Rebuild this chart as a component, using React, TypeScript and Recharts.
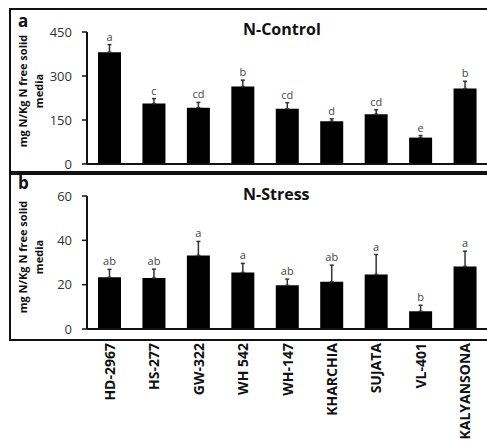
import React from 'react';
import { Bar, BarChart, ErrorBar, LabelList, XAxis, YAxis } from 'recharts';

const cultivars = ['HD-2967', 'HS-277', 'GW-322', 'WH 542', 'WH-147', 'KHARCHIA', 'SUJATA', 'VL-401', 'KALYANSONA'];

const controlMean = [381, 206, 192, 264, 188, 146, 170, 90, 257];
const controlErr = [26, 17, 18, 22, 21, 8, 15, 7, 25];
const controlLetters = ['a', 'c', 'cd', 'b', 'cd', 'd', 'cd', 'e', 'b'];
const controlTicks = [0, 150, 300, 450];

const stressMean = [23.3, 23.0, 33.2, 25.5, 19.7, 21.3, 24.6, 8.0, 28.2];
const stressErr = [3.6, 4.0, 6.3, 4.1, 2.8, 7.5, 9.0, 2.7, 6.9];
const stressLetters = ['ab', 'ab', 'a', 'a', 'ab', 'ab', 'a', 'b', 'a'];
const stressTicks = [0, 20, 40, 60];

const FONT = '"Open Sans", sans-serif';

// error bars only point upwards, so the lower part is zero
const controlData = cultivars.map((name, i) => ({ name, mean: controlMean[i], err: [0, controlErr[i]], letter: controlLetters[i] }));
const stressData = cultivars.map((name, i) => ({ name, mean: stressMean[i], err: [0, stressErr[i]], letter: stressLetters[i] }));

function makeLetterLabel(means: number[], errs: number[], letters: string[]) {
    return (props: any) => {
        const { x, y, width, height, index } = props;
        const pxPerUnit = height / means[index];
        const top = y - errs[index] * pxPerUnit;
        return (
            <text x={x + width / 2} y={top - 4} textAnchor="middle" fontSize={11} fill="#444" fontFamily={FONT}>
                {letters[index]}
            </text>
        );
    };
}

const CultivarTick = (props: any) => {
    const { x, payload } = props;
    return (
        <text
            x={0}
            y={0}
            transform={`translate(${x}, 343) rotate(-90)`}
            textAnchor="end"
            dominantBaseline="central"
            fontSize={14}
            fontWeight="bold"
            fill="#111"
            fontFamily={FONT}
        >
            {payload.value}
        </text>
    );
};

function YLabel({ cy }: { cy: number }) {
    return (
        <>
            <g transform={`translate(22, ${cy}) rotate(-90)`}>
                <text textAnchor="middle" dominantBaseline="central" fontSize={11} fontWeight="bold" fontFamily={FONT} fill="#111">
                    mg N/Kg N free solid
                </text>
            </g>
            <g transform={`translate(38, ${cy}) rotate(-90)`}>
                <text textAnchor="middle" dominantBaseline="central" fontSize={11} fontWeight="bold" fontFamily={FONT} fill="#111">
                    media
                </text>
            </g>
        </>
    );
}

export default function App() {
    const tickStyle = { fontSize: 13, fill: '#333', fontFamily: FONT };
    return (
        <div style={{ position: 'absolute', left: 0, top: 0, width: 487, height: 442, overflow: 'hidden', background: '#fff' }}>
            {/* panel boxes */}
            <div style={{ position: 'absolute', left: 9, top: 8, width: 500, height: 161, borderLeft: '2px solid #111', borderTop: '2px solid #111', borderBottom: '2px solid #111' }} />
            <div style={{ position: 'absolute', left: 9, top: 173, width: 500, height: 164, borderLeft: '2px solid #111', borderTop: '2px solid #111', borderBottom: '2px solid #111' }} />

            <div style={{ position: 'absolute', left: 0, top: 0 }}>
                <BarChart width={487} height={172} data={controlData} margin={{ top: 32, right: 0, left: 0, bottom: 7 }} barSize={23}>
                    <XAxis dataKey="name" tick={false} tickLine={false} height={1} axisLine={{ stroke: '#111', strokeWidth: 2 }} />
                    <YAxis
                        domain={[0, 450]}
                        ticks={controlTicks}
                        width={87}
                        tickSize={5}
                        tickMargin={10}
                        tick={tickStyle}
                        axisLine={{ stroke: '#111', strokeWidth: 2 }}
                        tickLine={{ stroke: '#111', strokeWidth: 1.5 }}
                        interval={0}
                    />
                    <Bar dataKey="mean" fill="#000" isAnimationActive={false}>
                        <ErrorBar dataKey="err" width={2} stroke="#333" strokeWidth={1.5} direction="y" />
                        <LabelList dataKey="letter" content={makeLetterLabel(controlMean, controlErr, controlLetters)} />
                    </Bar>
                </BarChart>
            </div>

            <div style={{ position: 'absolute', left: 0, top: 0 }}>
                <BarChart width={487} height={442} data={stressData} margin={{ top: 196, right: 0, left: 0, bottom: 0 }} barSize={23}>
                    <XAxis
                        dataKey="name"
                        interval={0}
                        tick={<CultivarTick />}
                        tickLine={false}
                        height={113}
                        axisLine={{ stroke: '#111', strokeWidth: 2 }}
                    />
                    <YAxis
                        domain={[0, 60]}
                        ticks={stressTicks}
                        width={87}
                        tickSize={5}
                        tickMargin={10}
                        tick={tickStyle}
                        axisLine={{ stroke: '#111', strokeWidth: 2 }}
                        tickLine={{ stroke: '#111', strokeWidth: 1.5 }}
                        interval={0}
                    />
                    <Bar dataKey="mean" fill="#000" isAnimationActive={false}>
                        <ErrorBar dataKey="err" width={2} stroke="#333" strokeWidth={1.5} direction="y" />
                        <LabelList dataKey="letter" content={makeLetterLabel(stressMean, stressErr, stressLetters)} />
                    </Bar>
                </BarChart>
            </div>

            <svg width={487} height={442} style={{ position: 'absolute', left: 0, top: 0, pointerEvents: 'none' }}>
                <YLabel cy={91} />
                <YLabel cy={257} />
                <text x={18} y={27} fontSize={17} fontWeight="bold" fontFamily={FONT} fill="#111">a</text>
                <text x={18} y={189} fontSize={17} fontWeight="bold" fontFamily={FONT} fill="#111">b</text>
                <text x={243} y={35} fontSize={16} fontWeight="bold" fontFamily={FONT} fill="#111">N-Control</text>
                <text x={243} y={200} fontSize={16} fontWeight="bold" fontFamily={FONT} fill="#111">N-Stress</text>
            </svg>
        </div>
    );
}
